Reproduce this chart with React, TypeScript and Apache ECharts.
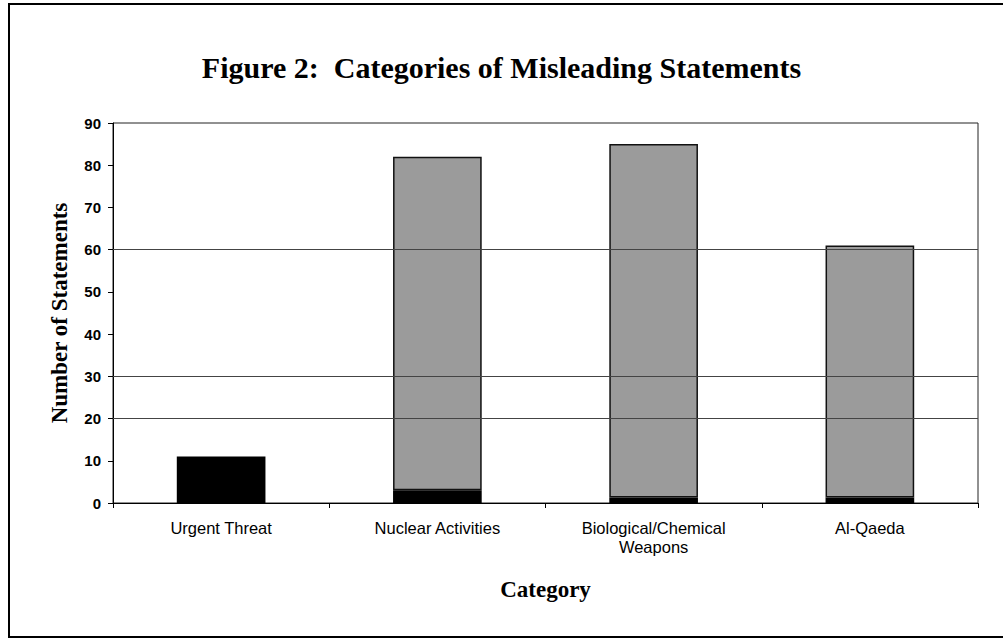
import React, { useEffect, useRef } from "react";
import * as echarts from "echarts";

const categories = ["Urgent Threat", "Nuclear Activities", "Biological/Chemical\nWeapons", "Al-Qaeda"];
const blackBase = [11, 3, 1.3, 1.3];
const grayTop = [0, 79, 83.7, 59.7];
const gridValues = [20, 30, 60];

export default function App() {
  const ref = useRef<HTMLDivElement>(null);
  useEffect(() => {
    document.body.style.margin = "0";
    const chart = echarts.init(ref.current!, null, { renderer: "svg" });
    chart.setOption({
      animation: false,
      backgroundColor: "#ffffff",
      title: {
        text: "Figure 2:  Categories of Misleading Statements",
        left: "center",
        top: 47,
        textStyle: { fontFamily: "Liberation Serif", fontWeight: "bold", fontSize: 30, color: "#000" },
      },
      grid: { left: 113, right: 25, top: 123, bottom: 137, show: true, borderColor: "#222", borderWidth: 1 },
      xAxis: {
        type: "category",
        data: categories,
        name: "Category",
        nameLocation: "middle",
        nameGap: 75,
        nameTextStyle: { fontFamily: "Liberation Serif", fontWeight: "bold", fontSize: 23, color: "#000" },
        axisLine: { lineStyle: { color: "#000", width: 1 } },
        axisTick: { show: true, length: 5, lineStyle: { color: "#000" } },
        axisLabel: { fontFamily: "Liberation Sans", fontSize: 16.5, color: "#000", margin: 15, lineHeight: 19 },
      },
      yAxis: {
        type: "value",
        min: 0,
        max: 90,
        interval: 10,
        name: "Number of Statements",
        nameLocation: "middle",
        nameGap: 42,
        nameTextStyle: { fontFamily: "Liberation Serif", fontWeight: "bold", fontSize: 23, color: "#000" },
        axisLine: { show: true, lineStyle: { color: "#000", width: 1 } },
        axisTick: { show: true, length: 5, lineStyle: { color: "#000" } },
        splitLine: { show: false },
        axisLabel: { fontFamily: "Liberation Sans", fontWeight: "bold", fontSize: 15, color: "#000", margin: 12 },
      },
      series: [
        {
          name: "gridlines",
          type: "line",
          data: [],
          z: 1,
          markLine: {
            silent: true,
            symbol: "none",
            label: { show: false },
            lineStyle: { color: "#444", type: "solid", width: 1 },
            data: gridValues.map((v) => ({ yAxis: v })),
          },
        },
        {
          name: "base",
          type: "bar",
          stack: "s",
          z: 4,
          data: blackBase,
          barWidth: "41%",
          itemStyle: { color: "#000" },
        },
        {
          name: "main",
          type: "bar",
          stack: "s",
          z: 3,
          data: grayTop.map((v) => (v === 0 ? "-" : v)),
          barWidth: "41%",
          itemStyle: { color: "#9b9b9b", borderColor: "#111", borderWidth: 1.5 },
        },
      ],
      graphic: [
        {
          type: "rect",
          shape: { x: 9, y: 4, width: 1010, height: 633 },
          style: { fill: "none", stroke: "#000", lineWidth: 2 },
        },
      ],
    });
    return () => chart.dispose();
  }, []);
  return <div ref={ref} style={{ width: 1003, height: 640 }} />;
}
